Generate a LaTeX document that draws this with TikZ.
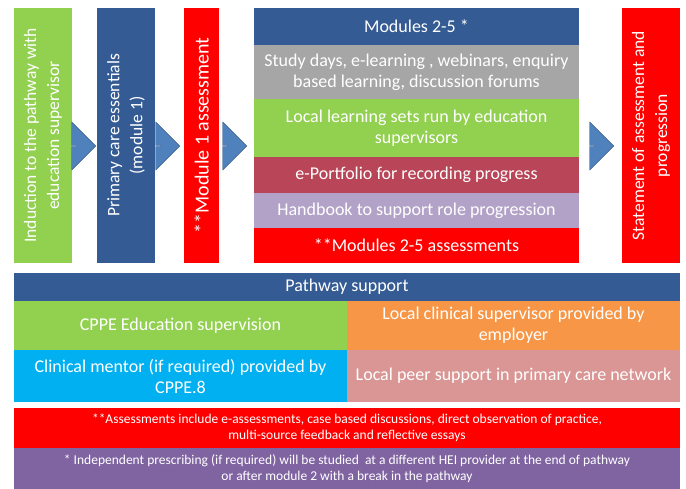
\documentclass[tikz,border=0pt]{standalone}
\usepackage{fontspec}
\setmainfont{Carlito}
\usepackage{tikz}
\usetikzlibrary{shapes.arrows}
\definecolor{lgreen}{RGB}{146, 208, 80}
\definecolor{dblue}{RGB}{52, 91, 148}
\definecolor{bred}{RGB}{255, 0, 0}
\definecolor{lgray}{RGB}{166, 166, 166}
\definecolor{maroon}{RGB}{184, 70, 88}
\definecolor{lav}{RGB}{178, 162, 199}
\definecolor{orng}{RGB}{247, 150, 70}
\definecolor{cyn}{RGB}{0, 176, 240}
\definecolor{pnk}{RGB}{217, 150, 148}
\definecolor{purp}{RGB}{128, 100, 162}
\definecolor{arrblue}{RGB}{79, 129, 189}

\begin{document}
\begin{tikzpicture}[x = 1pt, y = -1pt,
  box/.style = {inner sep = 2pt, outer sep = 0pt, align = center, text = white,
    font = \fontsize{18}{21}\selectfont},
  vbox/.style = {box, rotate = 90, minimum width = 255pt, font = \fontsize{17.5}{23}\selectfont},
  note/.style = {box, minimum width = 666pt, font = \fontsize{13.5}{16}\selectfont},
  blockarrow/.style = {single arrow, fill = arrblue, draw = arrblue!70!black,
    minimum height = 19pt, minimum width = 48pt, single arrow head extend = 10pt, inner sep = 0pt}]
			\useasboundingbox (0,0) rectangle (686,489);
			% top row
			\node (ind) at (43,135.5) [vbox, minimum height = 58pt, fill = lgreen] {Induction to the pathway with\\education supervisor};
			\node (prim) at (126,135.5) [vbox, minimum height = 58pt, fill = dblue] {Primary care essentials\\(module 1)};
			\node (mod1) at (201.5,135.5) [vbox, minimum height = 35pt, fill = bred, font = \fontsize{20}{24}\selectfont] {**Module 1 assessment};
			\node (mods) at (416.5,26.5) [box, minimum width = 325pt, minimum height = 37pt, fill = dblue] {Modules 2-5 *};
			\node (study) at (416.5,72) [box, minimum width = 325pt, minimum height = 54pt, fill = lgray] {Study days, e-learning , webinars, enquiry\\based learning, discussion forums};
			\node (sets) at (416.5,128) [box, minimum width = 325pt, minimum height = 58pt, fill = lgreen] {Local learning sets run by education\\supervisors};
			\node (port) at (416.5,175) [box, minimum width = 325pt, minimum height = 36pt, fill = maroon] {e-Portfolio for recording progress};
			\node (hand) at (416.5,210.5) [box, minimum width = 325pt, minimum height = 35pt, fill = lav] {Handbook to support role progression};
			\node (ass) at (416.5,245.5) [box, minimum width = 325pt, minimum height = 35pt, fill = bred] {**Modules 2-5 assessments};
			\node (stat) at (651,135.5) [vbox, minimum height = 58pt, fill = bred] {Statement of assessment and\\progression};
			% arrows
			\node (a1) at (86,146) [blockarrow] {};
			\node (a2) at (170,146) [blockarrow] {};
			\node (a3) at (237,146) [blockarrow] {};
			\node (a4) at (604,146) [blockarrow] {};
			% pathway support
			\node (path) at (347,286.7) [box, minimum width = 666pt, minimum height = 28pt, fill = dblue] {Pathway support};
			\node (cppe) at (180.5,325.3) [box, minimum width = 333pt, minimum height = 49pt, fill = lgreen] {CPPE Education supervision};
			\node (local) at (513.5,325.3) [box, minimum width = 333pt, minimum height = 49pt, fill = orng] {Local clinical supervisor provided by\\employer};
			\node (ment) at (180.5,376) [box, minimum width = 333pt, minimum height = 52pt, fill = cyn] {Clinical mentor (if required) provided by\\CPPE.8};
			\node (peer) at (513.5,376) [box, minimum width = 333pt, minimum height = 52pt, fill = pnk] {Local peer support in primary care network};
			% notes
			\node (n1) at (347,428) [note, minimum height = 40pt, fill = bred] {**Assessments include e-assessments, case based discussions, direct observation of practice,\\multi-source feedback and reflective essays};
			\node (n2) at (347,468.5) [note, minimum height = 41pt, fill = purp] {* Independent prescribing (if required) will be studied\ \ at a different HEI provider at the end of pathway\\or after module 2 with a break in the pathway};
\end{tikzpicture}
\end{document}
